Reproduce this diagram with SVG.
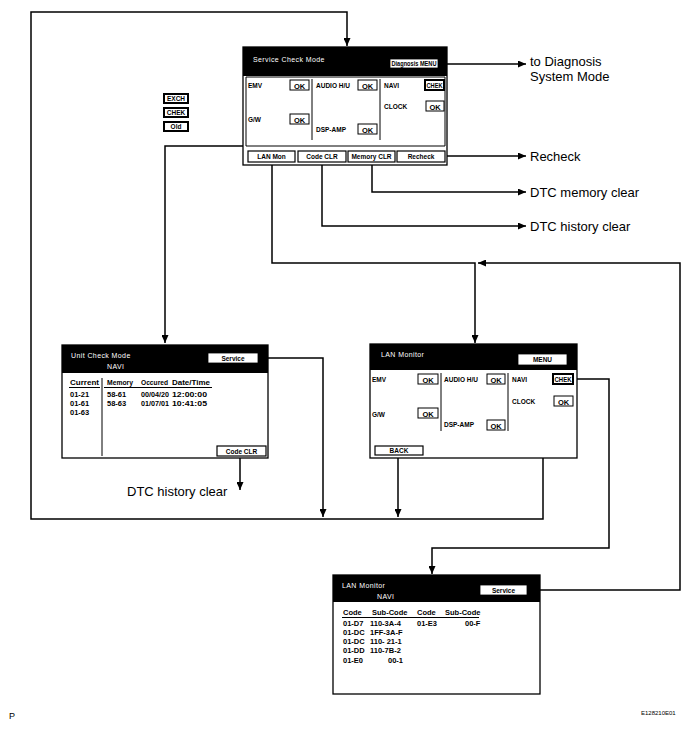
<svg xmlns="http://www.w3.org/2000/svg" width="695" height="729" viewBox="0 0 695 729">
<style>
.bg{fill:#fff}
.scr{fill:#fff;stroke:#000;stroke-width:1.3}
.hdr{fill:#000}
.pnl{fill:#fff;stroke:#000;stroke-width:1}
.div{stroke:#000;stroke-width:1;fill:none}
.ht{font-family:"Liberation Sans",Arial,sans-serif;font-size:7px;fill:#fff;letter-spacing:0.4px}
.t{font-family:"Liberation Sans",Arial,sans-serif;font-size:6.5px;font-weight:bold;fill:#000}
.tb{font-family:"Liberation Sans",Arial,sans-serif;font-size:7.5px;font-weight:bold;fill:#000}
.btn{fill:#fff;stroke:#000;stroke-width:1.2}
.wbtn{fill:#fff;stroke:#000;stroke-width:0.8}
.ok{fill:#fff;stroke:#000;stroke-width:1}
.chk{fill:#fff;stroke:#000;stroke-width:2}
.c{text-anchor:middle}
.lbl{font-family:"Liberation Sans",Arial,sans-serif;font-size:13px;fill:#000}
.con{fill:none;stroke:#000;stroke-width:1.5}
.arr{fill:none;stroke:#000;stroke-width:1.5;marker-end:url(#ah)}
</style>
<defs>
<marker id="ah" markerWidth="8" markerHeight="7" refX="8" refY="3.5" orient="auto" markerUnits="userSpaceOnUse">
<path d="M0,0 L8,3.5 L0,7 z" fill="#000"/>
</marker>
</defs>
<rect class="bg" x="0" y="0" width="695" height="729"/>

<g id="connectors">
<path class="arr" d="M543,365 V519 H31 V12 H347 V46"/>
<path class="arr" d="M258,358 H323 V517"/>
<path class="arr" d="M398,455 V517"/>
<path class="arr" d="M438,64 H526"/>
<path class="arr" d="M445,156 H526"/>
<path class="arr" d="M372,162 V192 H526"/>
<path class="arr" d="M322,162 V226 H526"/>
<path class="arr" d="M272,162 V263 H475 V343"/>
<path class="arr" d="M425,85 H410 V146 H165 V343"/>
<path class="arr" d="M527,590 H680 V263 H478"/>
<path class="arr" d="M573,379 H609 V548 H432 V574"/>
<path class="arr" d="M240,456 V490"/>
</g>

<g id="service-check-mode">
<rect class="scr" x="243" y="47" width="204" height="118"/>
<rect class="hdr" x="243" y="47" width="204" height="29"/>
<text class="ht" x="253" y="62">Service Check Mode</text>
<rect class="wbtn" x="390" y="59" width="48" height="9"/>
<text class="t" x="391.5" y="66" font-size="6" textLength="45" lengthAdjust="spacingAndGlyphs">Diagnosis MENU</text>
<path class="pnl" d="M246,77 H445 V146 H246 Z"/>
<path class="div" d="M312,79 V140 M380,79 V140"/>
<text class="t" x="248" y="88">EMV</text>
<rect class="ok" x="290" y="80" width="19" height="10"/><text class="tb c" x="299.5" y="88.5">OK</text>
<text class="t" x="316" y="88">AUDIO H/U</text>
<rect class="ok" x="358" y="80" width="19" height="10"/><text class="tb c" x="367.5" y="88.5">OK</text>
<text class="t" x="384" y="88">NAVI</text>
<rect class="chk" x="425" y="80" width="19" height="10"/><text class="t" x="426.5" y="88" textLength="16" lengthAdjust="spacingAndGlyphs">CHEK</text>
<text class="t" x="384" y="109">CLOCK</text>
<rect class="ok" x="426" y="101" width="18" height="10"/><text class="tb c" x="435" y="109.5">OK</text>
<text class="t" x="248" y="122">G/W</text>
<rect class="ok" x="290" y="114" width="19" height="10"/><text class="tb c" x="299.5" y="122.5">OK</text>
<text class="t" x="316" y="132">DSP-AMP</text>
<rect class="ok" x="358" y="124" width="19" height="10"/><text class="tb c" x="367.5" y="132.5">OK</text>
<rect class="btn" x="248" y="151" width="47" height="11"/><text class="t c" x="271.5" y="159">LAN Mon</text>
<rect class="btn" x="298" y="151" width="48" height="11"/><text class="t c" x="322" y="159">Code CLR</text>
<rect class="btn" x="348" y="151" width="47" height="11"/><text class="t c" x="371.5" y="159">Memory CLR</text>
<rect class="btn" x="397" y="151" width="48" height="11"/><text class="t c" x="421" y="159">Recheck</text>
</g>

<g id="legend">
<rect class="chk" x="164" y="94" width="24" height="9"/><text class="t c" x="176" y="101">EXCH</text>
<rect class="chk" x="164" y="108" width="24" height="9"/><text class="t c" x="176" y="115">CHEK</text>
<rect class="chk" x="164" y="122" width="24" height="9"/><text class="t c" x="176" y="129">Old</text>
</g>

<g id="unit-check-mode">
<rect class="scr" x="62" y="345" width="206" height="113"/>
<rect class="hdr" x="62" y="345" width="206" height="28"/>
<text class="ht" x="71" y="358">Unit Check Mode</text>
<text class="ht" x="107" y="369">NAVI</text>
<rect class="wbtn" x="208" y="353" width="50" height="10"/>
<text class="t c" x="233" y="361">Service</text>
<text class="tb" x="70" y="385" textLength="29" lengthAdjust="spacingAndGlyphs">Current</text>
<text class="tb" x="107" y="385" textLength="26" lengthAdjust="spacingAndGlyphs">Memory</text>
<text class="tb" x="141" y="385" textLength="27" lengthAdjust="spacingAndGlyphs">Occured</text>
<text class="tb" x="172" y="385" textLength="38" lengthAdjust="spacingAndGlyphs">Date/Time</text>
<path class="div" d="M69,387.5 H100 M104,387.5 H212 M102,378 V456"/>
<text class="tb" x="70" y="397">01-21</text><text class="tb" x="107" y="397">58-61</text><text class="tb" x="141" y="397" textLength="28" lengthAdjust="spacingAndGlyphs">00/04/20</text><text class="tb" x="172" y="397" textLength="35" lengthAdjust="spacingAndGlyphs">12:00:00</text>
<text class="tb" x="70" y="406">01-61</text><text class="tb" x="107" y="406">58-63</text><text class="tb" x="141" y="406" textLength="28" lengthAdjust="spacingAndGlyphs">01/07/01</text><text class="tb" x="172" y="406" textLength="35" lengthAdjust="spacingAndGlyphs">10:41:05</text>
<text class="tb" x="70" y="415">01-63</text>
<rect class="btn" x="217" y="446" width="49" height="10"/><text class="t c" x="241.5" y="453.5">Code CLR</text>
</g>

<g id="lan-monitor">
<rect class="scr" x="370" y="344" width="207" height="114"/>
<rect class="hdr" x="370" y="344" width="207" height="26"/>
<text class="ht" x="381" y="357">LAN Monitor</text>
<rect class="wbtn" x="518" y="354" width="49" height="11"/>
<text class="t c" x="542.5" y="362">MENU</text>
<path class="div" d="M441,373 V431 M508,373 V431"/>
<text class="t" x="372" y="382">EMV</text>
<rect class="ok" x="418" y="374" width="20" height="10"/><text class="tb c" x="428" y="382.5">OK</text>
<text class="t" x="444" y="382">AUDIO H/U</text>
<rect class="ok" x="487" y="374" width="18" height="10"/><text class="tb c" x="496" y="382.5">OK</text>
<text class="t" x="512" y="382">NAVI</text>
<rect class="chk" x="553" y="374" width="20" height="10"/><text class="t" x="554.5" y="382" textLength="17" lengthAdjust="spacingAndGlyphs">CHEK</text>
<text class="t" x="512" y="404">CLOCK</text>
<rect class="ok" x="554" y="396" width="19" height="10"/><text class="tb c" x="563.5" y="404.5">OK</text>
<text class="t" x="372" y="417">G/W</text>
<rect class="ok" x="418" y="408" width="20" height="10"/><text class="tb c" x="428" y="416.5">OK</text>
<text class="t" x="444" y="427">DSP-AMP</text>
<rect class="ok" x="487" y="420" width="18" height="10"/><text class="tb c" x="496" y="428.5">OK</text>
<rect class="btn" x="375" y="446" width="48" height="9"/><text class="t c" x="399" y="453">BACK</text>
</g>

<g id="lan-monitor-navi">
<rect class="scr" x="333" y="575" width="207" height="119"/>
<rect class="hdr" x="333" y="575" width="207" height="27"/>
<text class="ht" x="342" y="588">LAN Monitor</text>
<text class="ht" x="377" y="599">NAVI</text>
<rect class="wbtn" x="480" y="585" width="47" height="10"/>
<text class="t c" x="503.5" y="592.5">Service</text>
<text class="tb" x="343" y="615">Code</text>
<text class="tb" x="372" y="615">Sub-Code</text>
<text class="tb" x="417" y="615">Code</text>
<text class="tb" x="445" y="615">Sub-Code</text>
<path class="div" d="M342,617.5 H479"/>
<text class="tb" x="343" y="626">01-D7</text><text class="tb" x="370" y="626">110-3A-4</text><text class="tb" x="417" y="626">01-E3</text><text class="tb" x="465" y="626">00-F</text>
<text class="tb" x="343" y="635">01-DC</text><text class="tb" x="370" y="635">1FF-3A-F</text>
<text class="tb" x="343" y="644">01-DC</text><text class="tb" x="370" y="644">110- 21-1</text>
<text class="tb" x="343" y="653">01-DD</text><text class="tb" x="370" y="653">110-7B-2</text>
<text class="tb" x="343" y="663">01-E0</text><text class="tb" x="388" y="663">00-1</text>
</g>

<g id="labels">
<text class="lbl" x="530" y="66">to Diagnosis</text>
<text class="lbl" x="530" y="81">System Mode</text>
<text class="lbl" x="530" y="161">Recheck</text>
<text class="lbl" x="530" y="197">DTC memory clear</text>
<text class="lbl" x="530" y="231">DTC history clear</text>
<text class="lbl" x="127" y="496">DTC history clear</text>
<text x="9" y="719" font-family="Liberation Sans, Arial, sans-serif" font-size="9">P</text>
<text x="641" y="715" font-family="Liberation Sans, Arial, sans-serif" font-size="6">E128210E01</text>
</g>
</svg>
